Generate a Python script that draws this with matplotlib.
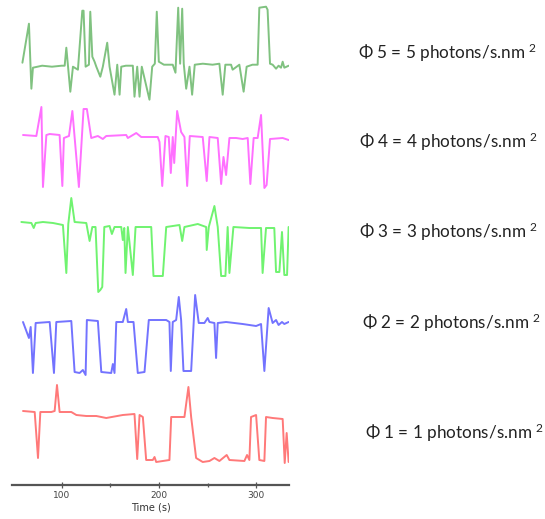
import matplotlib
matplotlib.use("Agg")
import matplotlib.pyplot as plt
from matplotlib.ticker import FixedLocator

# ---- data (time in s, signal in arbitrary units relative to each trace baseline) ----
t5 = [59.7, 66.4, 68.9, 70.5, 80, 90, 100, 103.1, 104.8, 108.9, 111.6, 116.7, 121.2, 122.5, 124.6, 128.0,
      129.4, 131.5, 133.8, 135.6, 139.7, 142.3, 146.8, 149.2, 154.3, 157.1, 159.5, 161.2, 166, 173.1, 174.8, 177.6,
      180, 182.3, 190.2, 193, 195.7, 197.7, 199.8, 205, 214.1, 216.9, 219.7, 221.7, 223.8, 225.4, 227.9, 231.3,
      234, 236.7, 245, 255, 262, 265.4, 268.1, 274, 275.6, 282.5, 286.9, 290, 296, 301.3, 303, 309.9,
      311.5, 314, 316.7, 320.2, 322.8, 325.3, 327, 328.7, 333.2]
v5 = [3, 42, -23, -2, 0, -1, 0, 0, 18, -26, -1, -4, 55, 55, -1, 1,
      54, 9, 4, -1, -11, -1, 23, -1, -29, 1, -29, -1, 0, 0, -31, -1,
      -31, -1, -34, -1, 2, 54, 4, 1, 1, -7, 58, 2, 57, 2, -23, -1,
      -29, 1, 2, 1, 2, -29, 1, 1, -4, 1, -26, -1, 1, 1, 58, 59,
      56, 2, 1, -3, 0, -2, 4, -2, 0]

t4 = [60.3, 74.0, 79.2, 80.8, 84.3, 87.7, 97.9, 100.7, 102.3, 107.5, 111.0, 117.7, 122.5, 125.9, 130.4, 137.2,
      142.3, 145.8, 166.3, 168.0, 176.6, 181.7, 198.7, 200.5, 203.3, 206.6, 210.0, 212.1, 214.1, 215.6, 218.6, 222.7,
      226.1, 228.9, 231.6, 244.9, 249, 251.8, 260.3, 263.8, 266.2, 268.9, 272.3, 279.2, 285.9, 291.1, 293.8, 297.2,
      301.3, 304.8, 308.2, 310.5, 314.0, 327.0, 333.1]
v4 = [1, 0, 29, -51, 1, 2, 1, -50, -2, 0, 25, -51, 27, 27, -2, 0,
      -3, 0, 1, -2, 3, -1, -1, -6, -50, 0, -1, -37, -1, -27, 25, 4,
      -1, -50, 0, -1, -45, -1, -2, -48, -21, -39, -2, -2, -3, -2, -48, -2,
      -2, 21, -52, -49, -3, -2, -4]

t3 = [58.6, 68.9, 71.3, 73.3, 80.8, 91.1, 101.3, 104.8, 106.8, 109.9, 113.3, 125.3, 128.7, 131.5, 134.8, 137.6,
      139.7, 141.7, 143.8, 149.2, 151.6, 154.3, 161.2, 162.8, 164.3, 165.6, 168.0, 173.1, 175.9, 192.0, 194.3, 203.9,
      207.4, 221.0, 223.8, 226.1, 239.8, 248.4, 249.0, 251.1, 256.9, 260.3, 263.8, 268.2, 270.5, 272.3, 276.4, 292.8,
      304.8, 306.4, 309.9, 318.4, 320.2, 323.6, 326.3, 328.7, 331.5, 333.1]
v3 = [3, 2, -3, 2, 3, 2, 0, -48, 1, 27, 3, 2, -16, -2, -2, -67,
      -65, -62, -2, -1, -9, -2, -2, -15, -3, -48, -2, -50, -2, -2, -51, -51,
      -2, 0, -16, -2, 1, -2, -25, -2, 19, -2, -51, -51, -2, -48, -2, -3,
      -3, -48, -3, -3, -47, -47, -7, -50, -50, -2]

t2 = [60.3, 66.4, 68.2, 70.5, 73.3, 87.7, 92.1, 94.5, 109.9, 113.3, 118.4, 121.8, 124.6, 125.9, 137.2, 140.7,
      150.9, 152.6, 154.3, 156.1, 162.8, 166.3, 168.0, 173.8, 178.2, 185.1, 189.5, 207.4, 210.7, 212.1, 214.1, 217.6,
      220.3, 222.7, 225.1, 233.0, 237.1, 240.8, 246.6, 250.0, 251.8, 256.9, 258.6, 260.3, 268.9, 285.9, 299.7, 304.8,
      308.2, 312.6, 316.7, 320.2, 322.8, 326.3, 328.7, 333.1]
v2 = [0, -16, -5, -51, -1, 0, -51, 0, 1, -50, -51, -48, -53, 2, 1, -50,
      -51, -42, -51, 0, 0, 13, 0, 0, -51, -50, 2, 2, 0, -49, 0, 2,
      25, 2, -49, -49, 27, -1, -1, 4, 0, -1, -36, -1, 0, -2, -4, -2,
      -49, 14, -1, 2, -3, 0, -2, 0]

t1 = [60.3, 72.3, 75.7, 78.1, 89.4, 92.8, 95.2, 97.9, 109.9, 115.1, 125.3, 135.6, 145.8, 162.8, 174.8, 177.6,
      180.0, 183.4, 186.8, 193.6, 195.4, 197.1, 210.7, 212.5, 226.1, 230.2, 233.0, 238.1, 244.9, 251.8, 256.9, 262.0,
      269.5, 272.3, 287.7, 290.4, 292.8, 294.5, 299.7, 303.0, 308.2, 309.9, 316.7, 327.0, 329.1, 331.1, 333.1]
v1 = [2, 1, -45, 1, 1, 2, 28, 1, 1, -2, -3, -3, -5, -2, -1, -46,
      -2, -4, -47, -47, -44, -49, -47, -4, -4, 26, -4, -45, -49, -48, -45, -48,
      -42, -47, -48, -42, -47, -4, -2, -47, -48, -4, -5, -6, -50, -20, -49]

labels = ["Φ 5 = 5 photons/s.nm $^{2}$", "Φ 4 = 4 photons/s.nm $^{2}$", "Φ 3 = 3 photons/s.nm $^{2}$",
          "Φ 2 = 2 photons/s.nm $^{2}$", "Φ 1 = 1 photons/s.nm $^{2}$"]
x_ticks = [100, 200, 300]
x_minor = [150, 250]

# ---- styling / layout ----
plt.rcParams["mathtext.fontset"] = "custom"
plt.rcParams["mathtext.rm"] = "Lato"
plt.rcParams["mathtext.it"] = "Lato"
plt.rcParams["mathtext.bf"] = "Lato"

traces = [(t5, v5), (t4, v4), (t3, v3), (t2, v2), (t1, v1)]
offsets = [419.3, 349, 260, 163, 72]
colors = ["#4aa84a", "#ff33ff", "#33ee33", "#3838ff", "#ff4040"]
label_pos = [(358, 53), (359, 142), (359, 232), (362, 323), (365, 433)]

W, H = 545, 519
fig = plt.figure(figsize=(W / 100, H / 100), dpi=100)
ax = fig.add_axes([12 / W, 34 / H, 277 / W, 485 / H])

for (t, v), off, c in zip(traces, offsets, colors):
    ax.plot(t, [off + x for x in v], color=c, lw=1.4, alpha=0.7,
            solid_joinstyle="round", solid_capstyle="round")

ax.set_xlim(49, 333.5)
ax.set_ylim(0, 485)
for s in ["top", "right", "left"]:
    ax.spines[s].set_visible(False)
ax.spines["bottom"].set_color("#555555")
ax.spines["bottom"].set_linewidth(1.6)
ax.set_yticks([])
ax.set_xticks(x_ticks)
ax.xaxis.set_minor_locator(FixedLocator(x_minor))
ax.tick_params(axis="x", which="major", direction="inout", length=5, width=0.9,
               color="#555555", labelsize=6.5, labelcolor="#444444", pad=1.5)
ax.tick_params(axis="x", which="minor", direction="inout", length=3, width=0.9, color="#555555")
ax.set_xlabel("Time (s)", fontsize=7, color="#333333", labelpad=2)
ax.patch.set_alpha(0)

for lab, (px, py) in zip(labels, label_pos):
    fig.text(px / W, 1 - py / H, lab, fontsize=12.3, family=["Lato", "DejaVu Sans"],
             color="#222222", ha="left", va="center")

fig.savefig("out.png", dpi=100)
